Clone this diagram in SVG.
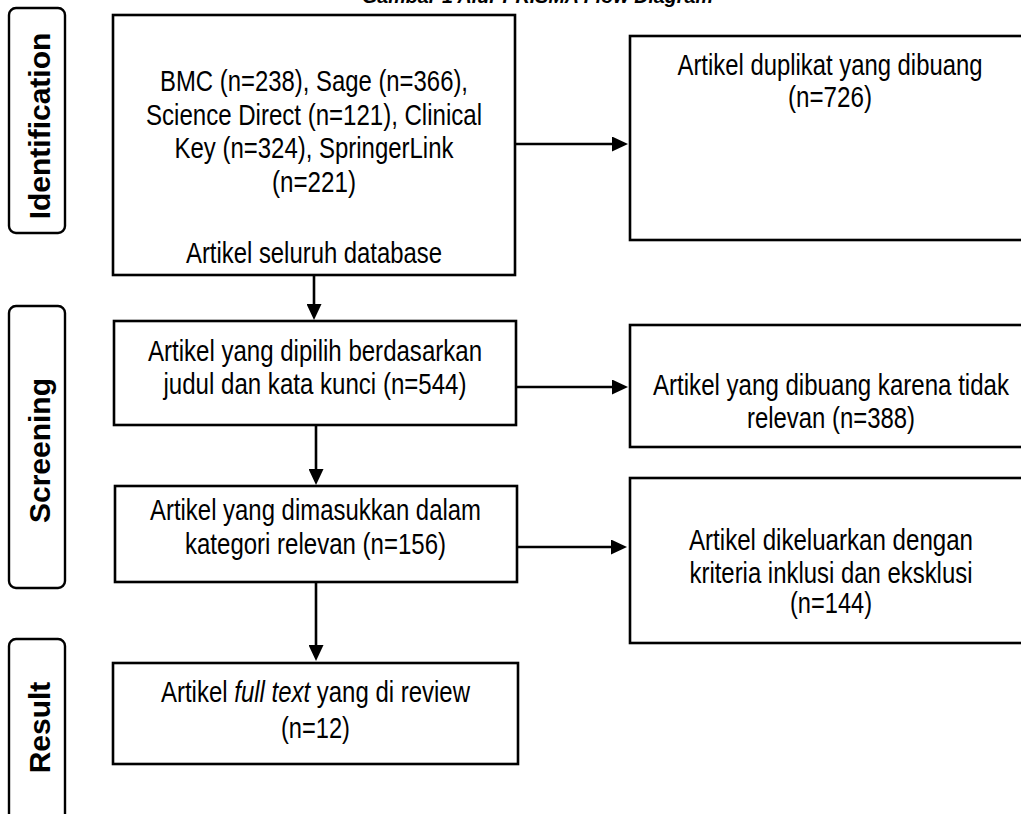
<svg xmlns="http://www.w3.org/2000/svg" width="1021" height="814" viewBox="0 0 1021 814">
<style>
.box{fill:#fff;stroke:#000;stroke-width:2.6}
.lbl{fill:#fff;stroke:#000;stroke-width:2.4}
.t{font-family:"Liberation Sans Narrow","Liberation Sans",Arial,sans-serif;font-size:29px;fill:#000;text-anchor:middle}
.side{font-family:"Liberation Sans",Arial,sans-serif;font-size:30px;font-weight:bold;fill:#000;text-anchor:middle}
.title{font-family:"Liberation Sans",Arial,sans-serif;font-size:20px;font-weight:bold;font-style:italic;fill:#000;text-anchor:middle}
.c{stroke:#000;stroke-width:2.6;fill:none;marker-end:url(#ah)}
</style>
<defs>
<marker id="ah" markerUnits="userSpaceOnUse" viewBox="0 0 16 15" refX="8" refY="7.5" markerWidth="16" markerHeight="15" orient="auto">
<path d="M0,0 L16,7.5 L0,15 Z" fill="#000"/>
</marker>
</defs>
<rect width="1021" height="814" fill="#fff"/>
<text class="title" x="537.5" y="3" textLength="351" lengthAdjust="spacingAndGlyphs">Gambar 1 Alur PRISMA Flow Diagram</text>

<g id="label-identification">
<rect class="lbl" x="9" y="8" width="56" height="225" rx="7"/>
<text class="side" transform="translate(50,126) rotate(-90)">Identification</text>
</g>
<g id="label-screening">
<rect class="lbl" x="9" y="306" width="56" height="282" rx="7"/>
<text class="side" transform="translate(50,450.5) rotate(-90)">Screening</text>
</g>
<g id="label-result">
<rect class="lbl" x="9" y="639" width="56" height="200" rx="7"/>
<text class="side" transform="translate(50,727.5) rotate(-90)">Result</text>
</g>

<g id="connectors">
<line class="c" x1="515" y1="144" x2="620" y2="144"/>
<line class="c" x1="314" y1="275" x2="314" y2="312"/>
<line class="c" x1="516" y1="387" x2="620" y2="387"/>
<line class="c" x1="316" y1="425" x2="316" y2="477"/>
<line class="c" x1="517" y1="547" x2="619" y2="547"/>
<line class="c" x1="316" y1="582" x2="316" y2="653"/>
</g>

<g id="node-database">
<rect class="box" x="113" y="15" width="402" height="260"/>
<text class="t" x="314" y="91" textLength="308" lengthAdjust="spacingAndGlyphs">BMC (n=238), Sage (n=366),</text>
<text class="t" x="314" y="125" textLength="336" lengthAdjust="spacingAndGlyphs">Science Direct (n=121), Clinical</text>
<text class="t" x="314" y="158" textLength="279" lengthAdjust="spacingAndGlyphs">Key (n=324), SpringerLink</text>
<text class="t" x="314" y="192" textLength="84" lengthAdjust="spacingAndGlyphs">(n=221)</text>
<text class="t" x="314" y="263" textLength="256" lengthAdjust="spacingAndGlyphs">Artikel seluruh database</text>
</g>

<g id="node-duplikat">
<rect class="box" x="630" y="36" width="400" height="204"/>
<text class="t" x="830" y="75" textLength="305" lengthAdjust="spacingAndGlyphs">Artikel duplikat yang dibuang</text>
<text class="t" x="830" y="107" textLength="84" lengthAdjust="spacingAndGlyphs">(n=726)</text>
</g>

<g id="node-dipilih">
<rect class="box" x="114" y="321" width="402" height="104"/>
<text class="t" x="315" y="361" textLength="334" lengthAdjust="spacingAndGlyphs">Artikel yang dipilih berdasarkan</text>
<text class="t" x="315" y="394" textLength="303" lengthAdjust="spacingAndGlyphs">judul dan kata kunci (n=544)</text>
</g>

<g id="node-tidak-relevan">
<rect class="box" x="630" y="325" width="400" height="122"/>
<text class="t" x="831" y="395" textLength="356" lengthAdjust="spacingAndGlyphs">Artikel yang dibuang karena tidak</text>
<text class="t" x="831" y="428" textLength="168" lengthAdjust="spacingAndGlyphs">relevan (n=388)</text>
</g>

<g id="node-relevan">
<rect class="box" x="115" y="486" width="402" height="96"/>
<text class="t" x="315.5" y="520" textLength="331" lengthAdjust="spacingAndGlyphs">Artikel yang dimasukkan dalam</text>
<text class="t" x="315.5" y="554" textLength="261" lengthAdjust="spacingAndGlyphs">kategori relevan (n=156)</text>
</g>

<g id="node-dikeluarkan">
<rect class="box" x="630" y="478" width="400" height="165"/>
<text class="t" x="831" y="550" textLength="284" lengthAdjust="spacingAndGlyphs">Artikel dikeluarkan dengan</text>
<text class="t" x="831" y="583" textLength="283" lengthAdjust="spacingAndGlyphs">kriteria inklusi dan eksklusi</text>
<text class="t" x="831" y="613" textLength="82" lengthAdjust="spacingAndGlyphs">(n=144)</text>
</g>

<g id="node-review">
<rect class="box" x="113" y="663" width="405" height="101"/>
<text class="t" x="315.5" y="702" textLength="309" lengthAdjust="spacingAndGlyphs">Artikel <tspan font-style="italic">full text</tspan> yang di review</text>
<text class="t" x="315.5" y="738" textLength="69" lengthAdjust="spacingAndGlyphs">(n=12)</text>
</g>
</svg>
